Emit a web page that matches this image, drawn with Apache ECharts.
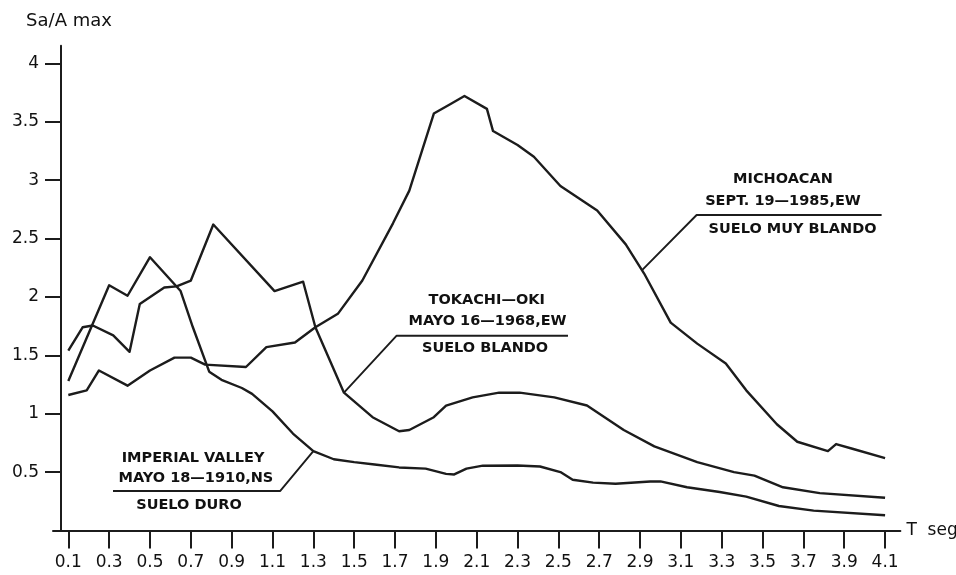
<!DOCTYPE html>
<html>
<head>
<meta charset="utf-8">
<script src="https://cdn.jsdelivr.net/npm/echarts@6/dist/echarts.min.js"></script>
<style>
  html, body { margin: 0; padding: 0; background: #fff; }
  #chart { width: 956px; height: 575px; }
</style>
</head>
<body>
<div id="chart"></div>
<script>
// Spectral ratio Sa/A max versus period T (s) for three records

// Michoacan, Sept. 19 1985, EW — very soft soil
const periodMichoacan = [0.1, 0.19, 0.25, 0.39, 0.5, 0.62, 0.7, 0.77, 0.97, 1.07, 1.21, 1.31, 1.42, 1.54, 1.69, 1.77, 1.89, 1.97, 2.04, 2.15, 2.18, 2.3, 2.38, 2.51, 2.69, 2.83, 2.92, 3.05, 3.18, 3.32, 3.42, 3.57, 3.67, 3.82, 3.86, 3.94, 4.1];
const saMichoacan     = [1.16, 1.20, 1.37, 1.24, 1.37, 1.48, 1.48, 1.42, 1.40, 1.57, 1.61, 1.74, 1.855, 2.14, 2.63, 2.91, 3.57, 3.65, 3.72, 3.61, 3.42, 3.30, 3.20, 2.95, 2.74, 2.45, 2.20, 1.78, 1.60, 1.43, 1.20, 0.91, 0.76, 0.68, 0.74, 0.70, 0.62];

// Tokachi-Oki, May 16 1968, EW — soft soil
const periodTokachi = [0.1, 0.17, 0.22, 0.32, 0.4, 0.45, 0.57, 0.63, 0.7, 0.81, 1.11, 1.25, 1.31, 1.45, 1.59, 1.72, 1.77, 1.89, 1.95, 2.08, 2.21, 2.31, 2.48, 2.64, 2.82, 2.97, 3.18, 3.36, 3.46, 3.6, 3.78, 4.1];
const saTokachi     = [1.54, 1.74, 1.755, 1.67, 1.53, 1.94, 2.08, 2.09, 2.14, 2.62, 2.05, 2.13, 1.74, 1.18, 0.97, 0.85, 0.86, 0.97, 1.07, 1.14, 1.18, 1.18, 1.14, 1.07, 0.86, 0.72, 0.585, 0.50, 0.47, 0.37, 0.32, 0.28];

// Imperial Valley, NS — firm soil
const periodImperial = [0.1, 0.3, 0.39, 0.5, 0.65, 0.71, 0.79, 0.85, 0.95, 1.0, 1.1, 1.2, 1.3, 1.4, 1.5, 1.6, 1.72, 1.85, 1.95, 1.99, 2.05, 2.13, 2.3, 2.41, 2.51, 2.57, 2.67, 2.78, 2.95, 3.0, 3.13, 3.29, 3.42, 3.58, 3.75, 4.1];
const saImperial     = [1.28, 2.10, 2.01, 2.34, 2.05, 1.74, 1.36, 1.29, 1.22, 1.17, 1.02, 0.83, 0.68, 0.61, 0.585, 0.565, 0.54, 0.53, 0.485, 0.48, 0.53, 0.555, 0.556, 0.548, 0.50, 0.435, 0.41, 0.40, 0.42, 0.42, 0.37, 0.33, 0.29, 0.21, 0.17, 0.13];

// Axis tick values
const periodTicks = [0.1, 0.3, 0.5, 0.7, 0.9, 1.1, 1.3, 1.5, 1.7, 1.9, 2.1, 2.3, 2.5, 2.7, 2.9, 3.1, 3.3, 3.5, 3.7, 3.9, 4.1];
const saTicks = [0.5, 1, 1.5, 2, 2.5, 3, 3.5, 4];

// Curve captions: text lines, the underline and the leader to the curve
const captionMichoacan = ['MICHOACAN', 'SEPT. 19—1985,EW', 'SUELO MUY BLANDO'];
const captionTokachi   = ['TOKACHI—OKI', 'MAYO 16—1968,EW', 'SUELO BLANDO'];
const captionImperial  = ['IMPERIAL VALLEY', 'MAYO 18—1910,NS', 'SUELO DURO'];

const ink = '#1c1c1c';
const zip = (xs, ys) => xs.map((x, i) => [x, ys[i]]);

// caption anchors expressed in axis units (T, Sa)
const captions = [
  { lines: captionMichoacan, textAt: [[3.60, 3.009], [3.60, 2.815], [3.647, 2.581]],
    leader: [[4.083, 2.701], [3.177, 2.701], [2.91, 2.23]] },
  { lines: captionTokachi, textAt: [[2.149, 1.973], [2.153, 1.796], [2.141, 1.563]],
    leader: [[2.547, 1.668], [1.708, 1.668], [1.45, 1.18]] },
  { lines: captionImperial, textAt: [[0.711, 0.621], [0.725, 0.449], [0.691, 0.218]],
    leader: [[0.319, 0.338], [1.137, 0.338], [1.3, 0.68]] }
];

const curveSeries = [
  zip(periodMichoacan, saMichoacan),
  zip(periodTokachi, saTokachi),
  zip(periodImperial, saImperial)
].map(d => ({
  type: 'line', data: d, showSymbol: false, smooth: false, silent: true,
  lineStyle: { color: ink, width: 2.4, join: 'round' }, z: 3
}));

const leaderSeries = captions.map(c => ({
  type: 'line', data: c.leader, showSymbol: false, silent: true,
  lineStyle: { color: ink, width: 1.9 }, z: 2
}));

const textSeries = {
  type: 'scatter', silent: true, symbolSize: 1,
  itemStyle: { color: '#ffffff', opacity: 1 },
  data: captions.flatMap(c => c.lines.map((t, i) => ({ name: t, value: c.textAt[i] }))),
  label: {
    show: true, position: 'inside', formatter: '{b}',
    color: '#111111', textBorderWidth: 0, textBorderColor: 'transparent',
    fontFamily: 'DejaVu Sans', fontWeight: 'bold', fontSize: 14.5
  },
  z: 4
};

const chart = echarts.init(document.getElementById('chart'), null, { renderer: 'canvas' });
chart.setOption({
  animation: false,
  backgroundColor: '#ffffff',
  grid: { left: 53, right: 55.6, top: 45.8, bottom: 44.5, containLabel: false, outerBoundsMode: 'none' },
  xAxis: {
    type: 'value', min: 0.025, max: 4.175,
    name: 'T  seg', nameLocation: 'end', nameGap: 6,
    nameTextStyle: { color: '#111', fontFamily: 'DejaVu Sans', fontSize: 17, padding: [0, 0, 9, 0] },
    axisLine: { show: true, onZero: false, lineStyle: { color: ink, width: 2 } },
    axisTick: { show: true, customValues: periodTicks, length: 18, inside: false, lineStyle: { color: ink, width: 2 } },
    axisLabel: {
      customValues: periodTicks, margin: 24, color: '#111',
      fontFamily: 'DejaVu Sans', fontSize: 17,
      formatter: v => v.toFixed(1)
    },
    splitLine: { show: false }
  },
  yAxis: {
    type: 'value', min: 0, max: 4.15, offset: -8,
    name: 'Sa/A max', nameLocation: 'end', nameGap: 15,
    nameTextStyle: { color: '#111', fontFamily: 'DejaVu Sans', fontSize: 18, align: 'center', padding: [0, 0, 0, 16] },
    axisLine: { show: true, onZero: false, lineStyle: { color: ink, width: 2 } },
    axisTick: { show: true, customValues: saTicks, length: 16, inside: false, lineStyle: { color: ink, width: 2 } },
    axisLabel: {
      customValues: saTicks, margin: 22, color: '#111',
      fontFamily: 'DejaVu Sans', fontSize: 17,
      formatter: v => String(v)
    },
    splitLine: { show: false }
  },
  series: [...curveSeries, ...leaderSeries, textSeries]
});
</script>
</body>
</html>
